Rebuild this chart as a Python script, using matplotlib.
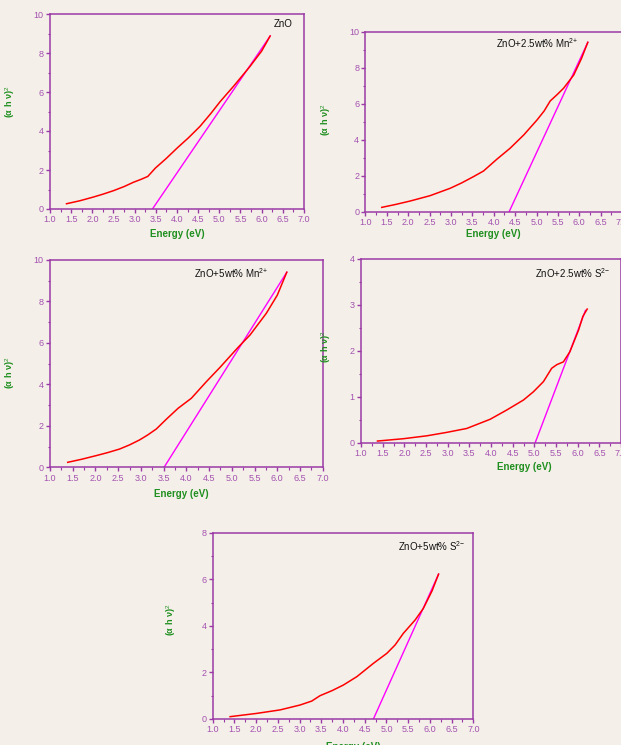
import matplotlib
matplotlib.use("Agg")
import matplotlib.pyplot as plt
from matplotlib.ticker import MultipleLocator

plt.rcParams['font.family'] = ['Liberation Sans', 'DejaVu Sans']
plt.rcParams['mathtext.fontset'] = 'custom'
plt.rcParams['mathtext.rm'] = 'Liberation Sans'

# ZnO
zno_x = [1.39, 1.7, 2.02, 2.25, 2.5, 2.75, 2.97, 3.15, 3.31, 3.49, 3.75, 4.0, 4.27,
         4.54, 4.8, 5.02, 5.33, 5.72, 6.0, 6.2]
zno_y = [0.27, 0.42, 0.61, 0.76, 0.94, 1.15, 1.37, 1.52, 1.67, 2.1, 2.6, 3.12, 3.65,
         4.23, 4.9, 5.51, 6.28, 7.3, 8.1, 8.87]
zno_fit = [[3.42, 6.2], [0.0, 8.87]]

# ZnO + 2.5wt% Mn
mn25_x = [1.38, 1.7, 2.04, 2.51, 2.98, 3.25, 3.52, 3.76, 4.07, 4.38, 4.70, 5.01, 5.18,
          5.32, 5.48, 5.63, 5.87, 6.05, 6.2]
mn25_y = [0.24, 0.4, 0.59, 0.89, 1.30, 1.6, 1.94, 2.26, 2.91, 3.52, 4.26, 5.09, 5.6,
          6.15, 6.5, 6.85, 7.59, 8.5, 9.41]
mn25_fit = [[4.36, 6.2], [0.0, 9.41]]

# ZnO + 5wt% Mn
mn5_x = [1.39, 1.7, 2.01, 2.27, 2.53, 2.75, 2.97, 3.15, 3.34, 3.56, 3.82, 4.11, 4.44,
         4.74, 5.14, 5.40, 5.76, 6.0, 6.21]
mn5_y = [0.24, 0.39, 0.56, 0.71, 0.88, 1.08, 1.32, 1.56, 1.85, 2.32, 2.85, 3.33, 4.13,
         4.82, 5.79, 6.38, 7.43, 8.3, 9.41]
mn5_fit = [[3.51, 6.21], [0.0, 9.41]]

# ZnO + 2.5wt% S
s25_x = [1.38, 1.98, 2.52, 2.98, 3.44, 3.98, 4.36, 4.75, 4.98, 5.21, 5.40, 5.52, 5.67,
         5.82, 6.02, 6.12, 6.22]
s25_y = [0.036, 0.087, 0.15, 0.225, 0.31, 0.51, 0.71, 0.93, 1.11, 1.33, 1.62, 1.7, 1.76,
         1.98, 2.45, 2.75, 2.91]
s25_fit = [[5.02, 6.18], [0.0, 2.88]]

# ZnO + 5wt% S
s5_x = [1.40, 2.01, 2.55, 3.01, 3.28, 3.47, 3.75, 4.01, 4.32, 4.70, 5.01, 5.20, 5.39,
        5.66, 5.85, 6.05, 6.2]
s5_y = [0.10, 0.24, 0.39, 0.60, 0.77, 1.0, 1.22, 1.46, 1.82, 2.39, 2.82, 3.18, 3.68,
        4.25, 4.75, 5.5, 6.22]
s5_fit = [[4.70, 6.2], [0.0, 6.22]]

W, H = 621, 745
purple = '#9a3aa6'
tick_purple = '#a452b0'
green = '#1f8f1f'

fig = plt.figure(figsize=(W / 100, H / 100), dpi=100)
fig.patch.set_facecolor('#f4efe9')


def box(l, r, t, b):
    return [l / W, 1 - b / H, (r - l) / W, (b - t) / H]


panels = [
    # pixel box, x, y, fit, ymax, ymajor, label, text pos, ylabel pos, xlabel pos
    (box(50, 304, 14, 209), zno_x, zno_y, zno_fit, 10, 2, 'ZnO',
     (0.88, 0.949), (-0.13, 0.55), (0.5, -0.103)),
    (box(365.5, 622, 31.7, 211.7), mn25_x, mn25_y, mn25_fit, 10, 2, 'ZnO+2.5wt% Mn$^{2{+}}$',
     (0.508, 0.939), (-0.127, 0.51), (0.497, -0.098)),
    (box(50, 322.7, 260, 467.3), mn5_x, mn5_y, mn5_fit, 10, 2, 'ZnO+5wt% Mn$^{2{+}}$',
     (0.529, 0.936), (-0.122, 0.455), (0.483, -0.106)),
    (box(361, 621, 259, 442.7), s25_x, s25_y, s25_fit, 4, 1, 'ZnO+2.5wt% S$^{2{-}}$',
     (0.669, 0.925), (-0.109, 0.52), (0.63, -0.105)),
    (box(212.7, 473.3, 532.7, 719), s5_x, s5_y, s5_fit, 8, 2, 'ZnO+5wt% S$^{2{-}}$',
     (0.712, 0.930), (-0.133, 0.53), (0.538, -0.122)),
]

for rect, x, y, fit, ymax, ymaj, label, tpos, ylpos, xlpos in panels:
    ax = fig.add_axes(rect)
    ax.set_facecolor('none')
    ax.plot(fit[0], fit[1], color='#ff00ff', lw=1.0)
    ax.plot(x, y, color='#ff0000', lw=1.1)
    ax.set_xlim(1.0, 7.0)
    ax.set_ylim(0, ymax)
    ax.xaxis.set_major_locator(MultipleLocator(0.5))
    ax.xaxis.set_minor_locator(MultipleLocator(0.25))
    ax.yaxis.set_major_locator(MultipleLocator(ymaj))
    ax.yaxis.set_minor_locator(MultipleLocator(ymaj / 2))
    ax.xaxis.set_major_formatter(plt.FormatStrFormatter('%.1f'))
    for s in ax.spines.values():
        s.set_color(purple)
        s.set_linewidth(1.1)
    ax.tick_params(which='major', direction='out', length=3, width=1.0,
                   color=purple, labelcolor=tick_purple, labelsize=6.5, pad=1.5)
    ax.tick_params(which='minor', direction='out', length=1.8, width=0.8, color=purple)
    ax.set_xlabel('Energy (eV)', color=green, fontsize=7, fontweight='bold')
    ax.set_ylabel(r'(α h ν)$^{2}$', color=green, fontsize=6.5, fontweight='bold')
    ax.xaxis.set_label_coords(*xlpos)
    ax.yaxis.set_label_coords(*ylpos)
    ax.text(tpos[0], tpos[1], label, transform=ax.transAxes, fontsize=7,
            ha='left', va='center', color='#111111')

fig.savefig('out.png', dpi=100, facecolor=fig.get_facecolor())
